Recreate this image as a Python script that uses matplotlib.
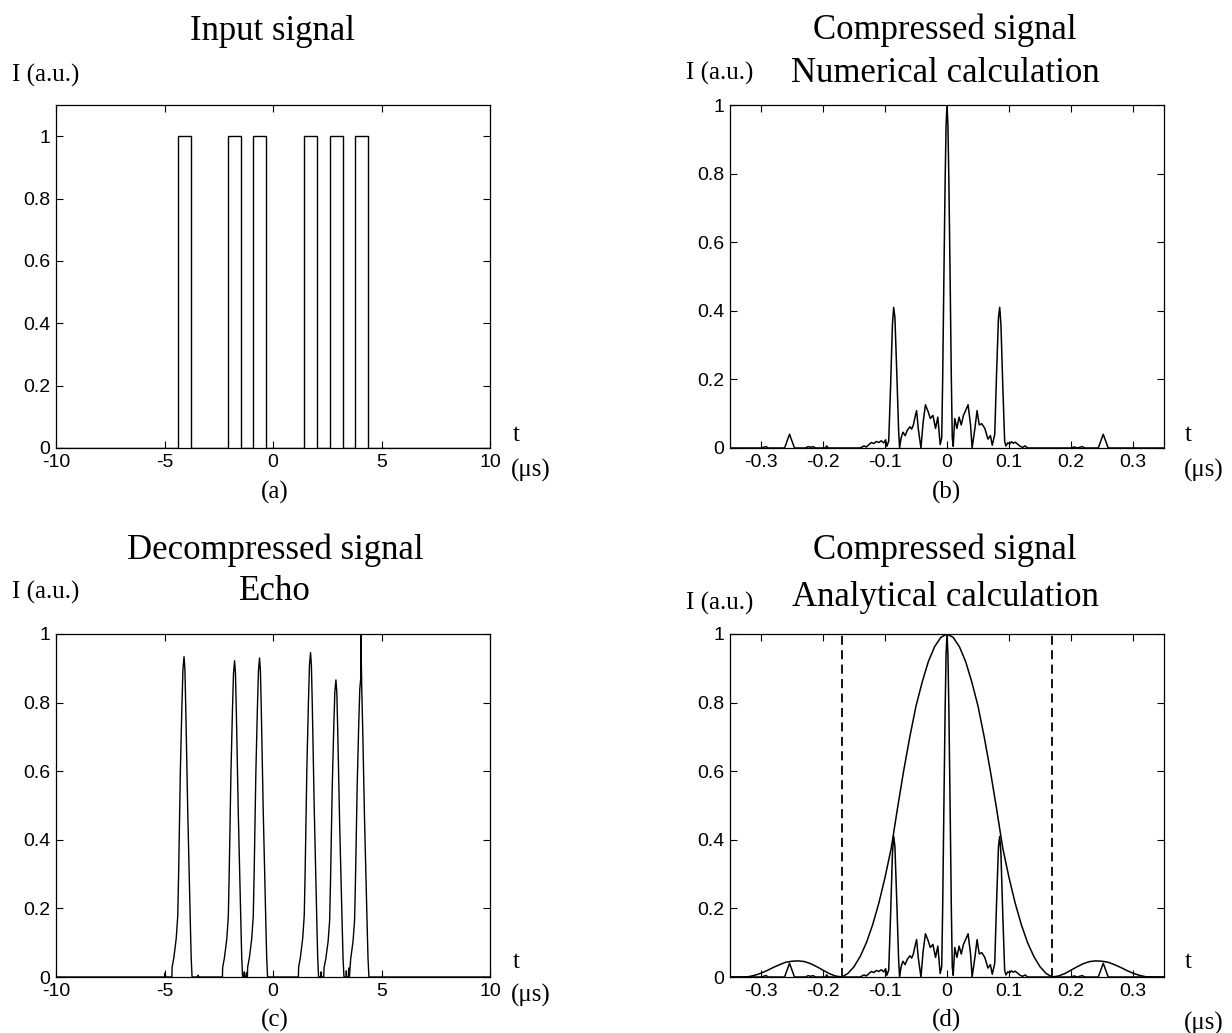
import numpy as np
import matplotlib
matplotlib.use("Agg")
import matplotlib.pyplot as plt

plt.rcParams['axes.unicode_minus'] = False

# (a) input signal: rectangular pulses (start time, us), width and height
pulse_start = [-4.40, -2.08, -0.91, 1.42, 2.63, 3.80]
pulse_width = 0.6
pulse_height = 1.0

# (c) echo: pulse centres, peak heights and a common pulse shape
echo_center = [-4.10, -1.77, -0.62, 1.73, 2.90, 4.05]
echo_peak = [0.934, 0.922, 0.930, 0.946, 0.866, 0.875]
echo_dt = [-0.56, -0.55, -0.47, -0.36, -0.29, -0.25, -0.21, -0.17, -0.10, -0.05,
           0.0, 0.04, 0.08, 0.13, 0.17, 0.21, 0.26, 0.30, 0.33, 0.37]
echo_rel = [0.0, 0.03, 0.06, 0.12, 0.19, 0.32, 0.48, 0.64, 0.84, 0.96,
            1.0, 0.96, 0.84, 0.66, 0.52, 0.40, 0.26, 0.14, 0.06, 0.0]
echo_spike_t = 4.05
echo_spike_i = 1.0
ripple_t = [-4.97, -3.45, -1.32, -1.22, 2.22, 3.38, 3.50]
ripple_i = [0.012, 0.005, 0.015, 0.012, 0.015, 0.018, 0.012]

# (b)/(d) compressed signal, numerical calculation
comp_t = [-0.350, -0.300, -0.292, -0.288, -0.262, -0.258, -0.254, -0.250, -0.246,
          -0.228, -0.224, -0.220, -0.216, -0.212, -0.196, -0.194, -0.192,
          -0.140, -0.134, -0.130, -0.126, -0.122, -0.118, -0.114, -0.110, -0.106,
          -0.102, -0.099, -0.097, -0.094, -0.091, -0.088, -0.086, -0.084, -0.081,
          -0.078, -0.0765, -0.074, -0.071, -0.0675, -0.064, -0.0596, -0.057,
          -0.0543, -0.051, -0.049, -0.0464, -0.042, -0.0385, -0.0348, -0.0306,
          -0.0269, -0.0227, -0.0185, -0.0148, -0.011, -0.0085, -0.007, -0.005,
          -0.003, -0.0015, 0.0, 0.0015, 0.003, 0.005, 0.007, 0.0085, 0.010,
          0.0125, 0.016, 0.0195, 0.023, 0.0265, 0.0295, 0.034, 0.038, 0.0405,
          0.045, 0.0485, 0.052, 0.056, 0.061, 0.066, 0.070, 0.073, 0.077, 0.080,
          0.083, 0.085, 0.087, 0.090, 0.093, 0.095, 0.098, 0.101, 0.104, 0.107,
          0.110, 0.114, 0.118, 0.122, 0.126, 0.130, 0.200, 0.205, 0.210, 0.218,
          0.222, 0.244, 0.248, 0.252, 0.256, 0.260, 0.350]
comp_i = [0.0, 0.0, 0.004, 0.0, 0.0, 0.02, 0.04, 0.02, 0.0,
          0.0, 0.004, 0.002, 0.004, 0.0, 0.0, 0.006, 0.0,
          0.0, 0.006, 0.003, 0.010, 0.016, 0.013, 0.019, 0.016, 0.021,
          0.015, 0.024, 0.005, 0.02, 0.18, 0.36, 0.41, 0.38, 0.22,
          0.05, 0.0, 0.03, 0.046, 0.036, 0.052, 0.062, 0.055,
          0.067, 0.095, 0.109, 0.057, 0.0, 0.075, 0.126, 0.107,
          0.086, 0.095, 0.057, 0.09, 0.01, 0.03, 0.2, 0.5,
          0.78, 0.94, 1.0, 0.94, 0.78, 0.5, 0.2, 0.03, 0.005,
          0.086, 0.057, 0.09, 0.067, 0.095, 0.107, 0.126, 0.067, 0.0,
          0.057, 0.109, 0.067, 0.071, 0.057, 0.026, 0.036, 0.008, 0.04, 0.22,
          0.38, 0.41, 0.36, 0.18, 0.02, 0.006, 0.015, 0.012, 0.018, 0.014,
          0.017, 0.011, 0.005, 0.002, 0.006, 0.0, 0.0, 0.003, 0.0, 0.004,
          0.0, 0.0, 0.02, 0.04, 0.02, 0.0, 0.0]

# (d) analytical envelope, right half (mirrored for t < 0)
env_t = [0.00, 0.01, 0.02, 0.03, 0.04, 0.05, 0.06, 0.07, 0.08, 0.09, 0.10, 0.11,
         0.12, 0.13, 0.14, 0.15, 0.16, 0.17, 0.18, 0.19, 0.20, 0.21, 0.22, 0.23,
         0.24, 0.25, 0.26, 0.27, 0.28, 0.29, 0.30, 0.31, 0.32, 0.33, 0.34, 0.35]
env_i = [1.000, 0.990, 0.963, 0.920, 0.860, 0.790, 0.700, 0.600, 0.490, 0.375,
         0.290, 0.215, 0.152, 0.100, 0.060, 0.030, 0.010, 0.000, 0.003, 0.010,
         0.020, 0.030, 0.039, 0.045, 0.047, 0.046, 0.043, 0.036, 0.028, 0.019,
         0.011, 0.005, 0.001, 0.000, 0.000, 0.000]
dash_t = 0.17

W, H = 1232, 1033
SERIF = 'Liberation Serif'
SANS = 'Liberation Sans'


def fx(x):
    return x / W


def fy(y):
    return 1 - y / H


def style(ax):
    ax.tick_params(direction='in', top=True, right=True, length=5, width=0.8,
                   labelsize=14, pad=4)
    for lab in ax.get_xticklabels() + ax.get_yticklabels():
        lab.set_fontfamily(SANS)
    for s in ax.spines.values():
        s.set_linewidth(0.9)


fig = plt.figure(figsize=(W / 100, H / 100), dpi=100)
aw, ah = 434 / W, 343 / H
ax_a = fig.add_axes([fx(56), fy(448), aw, ah])
ax_b = fig.add_axes([fx(730), fy(448), aw, ah])
ax_c = fig.add_axes([fx(56), fy(977), aw, ah])
ax_d = fig.add_axes([fx(730), fy(977), aw, ah])

# (a) square pulses
ta, ia = [-10.0], [0.0]
for s in pulse_start:
    ta += [s, s, s + pulse_width, s + pulse_width]
    ia += [0.0, pulse_height, pulse_height, 0.0]
ta.append(10.0)
ia.append(0.0)
ax_a.plot(ta, ia, color='black', lw=1.0)
ax_a.set_xlim(-10, 10)
ax_a.set_ylim(0, 1.1)
ax_a.set_xticks([-10, -5, 0, 5, 10])
ax_a.set_yticks([0, 0.2, 0.4, 0.6, 0.8, 1])
ax_a.set_yticklabels(['0', '0.2', '0.4', '0.6', '0.8', '1'])

# (c) echo
pts = [(-10.0, 0.0), (10.0, 0.0)]
for c, h in zip(echo_center, echo_peak):
    for d, r in zip(echo_dt, echo_rel):
        pts.append((c + d, h * r))
pts.append((echo_spike_t + 0.001, echo_spike_i))
for t, v in zip(ripple_t, ripple_i):
    pts += [(t - 0.02, 0.0), (t, v), (t + 0.02, 0.0)]
pts.sort()
ax_c.plot([p[0] for p in pts], [p[1] for p in pts], color='black', lw=1.0)
ax_c.set_xlim(-10, 10)
ax_c.set_ylim(0, 1)
ax_c.set_xticks([-10, -5, 0, 5, 10])
ax_c.set_yticks([0, 0.2, 0.4, 0.6, 0.8, 1])
ax_c.set_yticklabels(['0', '0.2', '0.4', '0.6', '0.8', '1'])

# (b) and (d) compressed signal
xt = [-0.3, -0.2, -0.1, 0, 0.1, 0.2, 0.3]
xtl = ['-0.3', '-0.2', '-0.1', '0', '0.1', '0.2', '0.3']
for ax in (ax_b, ax_d):
    ax.plot(comp_t, comp_i, color='black', lw=1.1)
    ax.set_xlim(-0.35, 0.35)
    ax.set_ylim(0, 1)
    ax.set_xticks(xt)
    ax.set_xticklabels(xtl)
    ax.set_yticks([0, 0.2, 0.4, 0.6, 0.8, 1])
    ax.set_yticklabels(['0', '0.2', '0.4', '0.6', '0.8', '1'])

et = np.array(env_t)
ei = np.array(env_i)
ax_d.plot(np.concatenate([-et[::-1], et[1:]]), np.concatenate([ei[::-1], ei[1:]]),
          color='black', lw=1.1)
for x in (-dash_t, dash_t):
    ax_d.axvline(x, color='black', lw=1.3, ls=(0, (5, 3)))

for ax in (ax_a, ax_b, ax_c, ax_d):
    style(ax)

# texts
big = 25
mid = 18
fig.text(fx(273), fy(32), 'Input signal', family=SERIF, size=big, ha='center', va='center')
fig.text(fx(945), fy(30), 'Compressed signal', family=SERIF, size=big, ha='center', va='center')
fig.text(fx(945), fy(73), 'Numerical calculation', family=SERIF, size=big, ha='center', va='center')
fig.text(fx(275), fy(550), 'Decompressed signal', family=SERIF, size=big, ha='center', va='center')
fig.text(fx(275), fy(592), 'Echo', family=SERIF, size=big, ha='center', va='center')
fig.text(fx(945), fy(550), 'Compressed signal', family=SERIF, size=big, ha='center', va='center')
fig.text(fx(945), fy(597), 'Analytical calculation', family=SERIF, size=big, ha='center', va='center')

for x, y in [(12, 75), (686, 73), (12, 592), (686, 603)]:
    fig.text(fx(x), fy(y), 'I (a.u.)', family=SERIF, size=mid, ha='left', va='center')

for x, y in [(516, 435), (1188, 435), (516, 962), (1188, 962)]:
    fig.text(fx(x), fy(y), 't', family=SERIF, size=mid, ha='center', va='center')
for x, y in [(531, 470), (1204, 470), (531, 995), (1204, 1023)]:
    fig.text(fx(x), fy(y), '(\u03bcs)', family=SERIF, size=mid, ha='center', va='center')

for lab, x, y in [('(a)', 275, 492), ('(b)', 946, 492), ('(c)', 275, 1020), ('(d)', 946, 1020)]:
    fig.text(fx(x), fy(y), lab, family=SERIF, size=mid, ha='center', va='center')

fig.savefig('out.png', dpi=100)
